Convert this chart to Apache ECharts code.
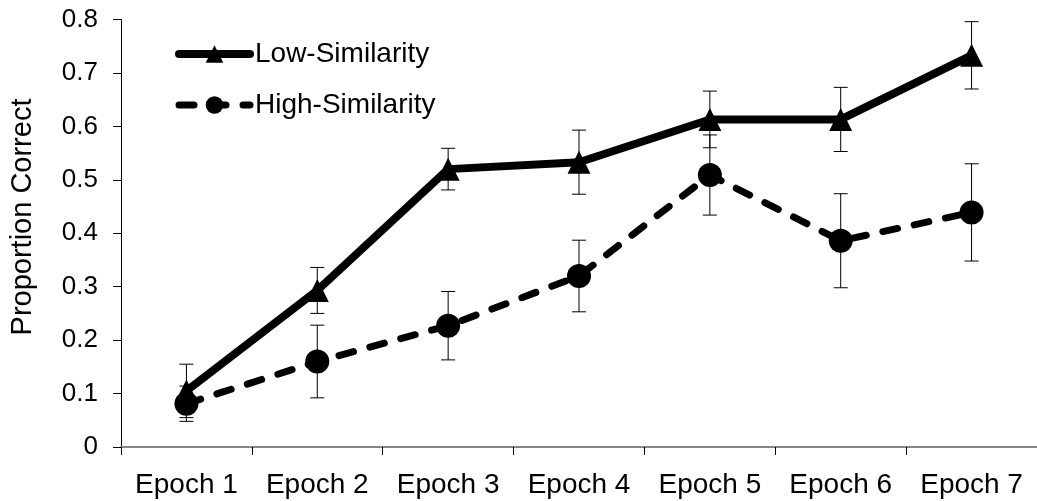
<!DOCTYPE html>
<html>
<head>
<meta charset="utf-8">
<script src="https://cdn.jsdelivr.net/npm/echarts@6/dist/echarts.min.js"></script>
<style>
html,body{margin:0;padding:0;background:#fff;}
#chart{width:1037px;height:501px;}
</style>
</head>
<body>
<div id="chart"></div>
<script>
const categories = ['Epoch 1','Epoch 2','Epoch 3','Epoch 4','Epoch 5','Epoch 6','Epoch 7'];
const lowMean  = [0.105, 0.293, 0.520, 0.533, 0.613, 0.613, 0.733];
const lowErr   = [0.050, 0.043, 0.039, 0.060, 0.053, 0.060, 0.063];
const highMean = [0.081, 0.160, 0.227, 0.320, 0.509, 0.386, 0.439];
const highErr  = [0.033, 0.068, 0.064, 0.067, 0.075, 0.088, 0.091];
const yTicks = [0, 0.1, 0.2, 0.3, 0.4, 0.5, 0.6, 0.7, 0.8];

const FONT = 'Liberation Sans, Arial, sans-serif';
const LOW_DASH = 'solid';
const HIGH_DASH = [15, 17];

function errData(mean, err){ return mean.map((m,i)=>[i, m, err[i]]); }

function renderErr(params, api){
  const i = api.value(0), m = api.value(1), e = api.value(2);
  const top = api.coord([i, m + e]);
  const bot = api.coord([i, m - e]);
  const hw = 7;
  const st = {stroke:'#000', lineWidth:1};
  return {type:'group', children:[
    {type:'line', shape:{x1:top[0], y1:top[1], x2:bot[0], y2:bot[1]}, style:st},
    {type:'line', shape:{x1:top[0]-hw, y1:top[1], x2:top[0]+hw, y2:top[1]}, style:st},
    {type:'line', shape:{x1:bot[0]-hw, y1:bot[1], x2:bot[0]+hw, y2:bot[1]}, style:st}
  ]};
}

const chart = echarts.init(document.getElementById('chart'), null, {renderer:'canvas'});
chart.setOption({
  animation:false,
  backgroundColor:'#fff',
  grid:{left:121, right:-8, top:19.5, bottom:54, containLabel:false},
  legend:{
    orient:'vertical', left:175, top:40, itemWidth:71, itemHeight:22, itemGap:23, padding:0,
    data:[
      {name:'Low-Similarity', lineStyle:{width:8, type:LOW_DASH, cap:'round'}},
      {name:'High-Similarity', lineStyle:{width:7, type:HIGH_DASH, cap:'round'}}
    ],
    textStyle:{fontFamily:FONT, fontSize:28, color:'#000'}
  },
  graphic:[{
    type:'text', x:23, y:217, rotation:Math.PI/2,
    style:{text:'Proportion Correct', font:'29px ' + FONT, fill:'#000', textAlign:'center', textVerticalAlign:'middle'}
  }],
  xAxis:{
    type:'category', data:categories, boundaryGap:true,
    axisLine:{lineStyle:{color:'#868686', width:2}},
    axisTick:{show:true, length:8, inside:false, interval:0, lineStyle:{color:'#000', width:1}},
    axisLabel:{fontFamily:FONT, fontSize:28, color:'#000', margin:24, interval:0, hideOverlap:false}
  },
  yAxis:{
    type:'value', min:0, max:0.8, interval:0.1,
    axisLine:{show:true, lineStyle:{color:'#000', width:1}},
    axisTick:{show:true, length:8, lineStyle:{color:'#000'}},
    splitLine:{show:false},
    axisLabel:{fontFamily:FONT, fontSize:26, color:'#000', margin:23,
      formatter:function(v){ const t = yTicks.find(x=>Math.abs(x-v)<1e-9); return t===undefined? '' : String(t); }}
  },
  series:[
    {type:'custom', name:'lowErr', renderItem:renderErr, data:errData(lowMean, lowErr), encode:{x:0, y:1}, z:1, silent:true},
    {type:'custom', name:'highErr', renderItem:renderErr, data:errData(highMean, highErr), encode:{x:0, y:1}, z:1, silent:true},
    {type:'line', name:'Low-Similarity', data:lowMean, symbol:'triangle', symbolSize:[23,23],
      itemStyle:{color:'#000'}, lineStyle:{color:'#000', width:8, type:LOW_DASH, cap:'round', join:'round'}, z:3},
    {type:'line', name:'High-Similarity', data:highMean, symbol:'circle', symbolSize:24,
      itemStyle:{color:'#000'}, lineStyle:{color:'#000', width:7, type:HIGH_DASH, cap:'round'}, z:4}
  ]
});
</script>
</body>
</html>
